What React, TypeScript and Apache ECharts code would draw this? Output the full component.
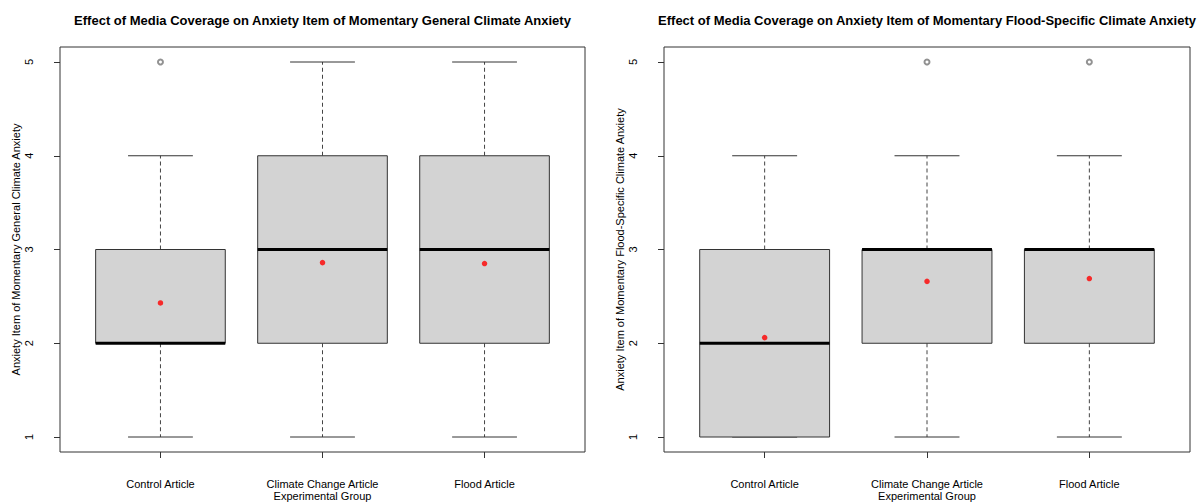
import React, { useEffect, useRef } from 'react';
import * as echarts from 'echarts';

// Experimental groups, placed at x = 1, 2, 3
const groups = ['Control Article', 'Climate Change Article', 'Flood Article'];
const groupPositions = [1, 2, 3];
const yTicks = [1, 2, 3, 4, 5];

// Five-number summaries per group: [lower whisker, Q1, median, Q3, upper whisker]
const generalStats = [
  [1, 2, 2, 3, 4],
  [1, 2, 3, 4, 5],
  [1, 2, 3, 4, 5],
];
const generalMeans = [2.43, 2.86, 2.85];
// Outliers as [group position, value]
const generalOutliers = [[1, 5]];

const floodStats = [
  [1, 1, 2, 3, 4],
  [1, 2, 3, 3, 4],
  [1, 2, 3, 3, 4],
];
const floodMeans = [2.06, 2.66, 2.69];
const floodOutliers = [
  [2, 5],
  [3, 5],
];

const titles = [
  'Effect of Media Coverage on Anxiety Item of Momentary General Climate Anxiety',
  'Effect of Media Coverage on Anxiety Item of Momentary Flood-Specific Climate Anxiety',
];
const yNames = [
  'Anxiety Item of Momentary General Climate Anxiety',
  'Anxiety Item of Momentary Flood-Specific Climate Anxiety',
];
const xName = 'Experimental Group';

const FONT = 'Liberation Sans, Arial, Helvetica, sans-serif';
const INK = '#333';

const grids = [
  { left: 60, top: 47, width: 525, height: 405 },
  { left: 664, top: 47, width: 526, height: 405 },
];

function renderBox(params: any, api: any) {
  const x = api.value(0);
  const lo = api.value(1);
  const q1 = api.value(2);
  const med = api.value(3);
  const q3 = api.value(4);
  const hi = api.value(5);
  const c = (xv: number, yv: number) => api.coord([xv, yv]);
  const cx = c(x, lo)[0];
  const yLo = c(x, lo)[1];
  const yQ1 = c(x, q1)[1];
  const yMed = c(x, med)[1];
  const yQ3 = c(x, q3)[1];
  const yHi = c(x, hi)[1];
  const bL = c(x - 0.4, med)[0];
  const bR = c(x + 0.4, med)[0];
  const sL = c(x - 0.2, med)[0];
  const sR = c(x + 0.2, med)[0];
  const dash = { stroke: '#444', lineWidth: 1, lineDash: [4, 3] };
  const solid = { stroke: INK, lineWidth: 1 };
  return {
    type: 'group',
    children: [
      { type: 'line', shape: { x1: cx, y1: yQ3, x2: cx, y2: yHi }, style: dash },
      { type: 'line', shape: { x1: cx, y1: yQ1, x2: cx, y2: yLo }, style: dash },
      { type: 'line', shape: { x1: sL, y1: yHi, x2: sR, y2: yHi }, style: solid },
      { type: 'line', shape: { x1: sL, y1: yLo, x2: sR, y2: yLo }, style: solid },
      {
        type: 'rect',
        shape: { x: bL, y: yQ3, width: bR - bL, height: yQ1 - yQ3 },
        style: { fill: '#D3D3D3', stroke: INK, lineWidth: 1 },
      },
      {
        type: 'line',
        shape: { x1: bL, y1: yMed, x2: bR, y2: yMed },
        style: { stroke: '#000', lineWidth: 3 },
      },
    ],
  };
}

function panel(i: number, stats: number[][], means: number[], outliers: number[][]) {
  const xAxis = {
    type: 'value',
    gridIndex: i,
    min: 0.38,
    max: 3.62,
    splitLine: { show: false },
    axisLine: { show: false },
    axisTick: { show: true, customValues: groupPositions, length: 6, lineStyle: { color: INK } },
    axisLabel: {
      customValues: groupPositions,
      formatter: (v: number) => groups[Math.round(v) - 1] ?? '',
      margin: 26,
      color: '#000',
      fontSize: 11,
      fontFamily: FONT,
    },
    name: xName,
    nameLocation: 'middle',
    nameGap: 38,
    nameMoveOverlap: false,
    nameTextStyle: { color: '#000', fontSize: 11, lineHeight: 12, fontFamily: FONT },
  };
  const yAxis = {
    type: 'value',
    gridIndex: i,
    min: 0.84,
    max: 5.16,
    splitLine: { show: false },
    axisLine: { show: false },
    axisTick: { show: true, customValues: yTicks, length: 6, lineStyle: { color: INK } },
    axisLabel: {
      customValues: yTicks,
      rotate: 90,
      margin: 26,
      color: '#000',
      fontSize: 11,
      fontFamily: FONT,
    },
    name: yNames[i],
    nameLocation: 'middle',
    nameGap: 39,
    nameMoveOverlap: false,
    nameTextStyle: { color: '#000', fontSize: 11, fontFamily: FONT },
  };
  const series = [
    {
      type: 'custom',
      xAxisIndex: i,
      yAxisIndex: i,
      renderItem: renderBox,
      encode: { x: 0, y: [1, 2, 3, 4, 5] },
      data: stats.map((s, k) => [groupPositions[k], ...s]),
      z: 2,
    },
    {
      type: 'scatter',
      xAxisIndex: i,
      yAxisIndex: i,
      symbol: 'emptyCircle',
      symbolSize: 5,
      itemStyle: { color: '#777', borderColor: '#777', borderWidth: 0.7 },
      data: outliers,
      z: 3,
    },
    {
      type: 'scatter',
      xAxisIndex: i,
      yAxisIndex: i,
      symbol: 'circle',
      symbolSize: 5.5,
      itemStyle: { color: '#FF0000' },
      data: means.map((m, k) => [groupPositions[k], m]),
      z: 4,
    },
  ];
  return { xAxis, yAxis, series };
}

export default function App() {
  const ref = useRef<HTMLDivElement>(null);
  useEffect(() => {
    if (!ref.current) return;
    document.body.style.margin = '0';
    const chart = echarts.init(ref.current, null, { renderer: 'svg' });
    const a = panel(0, generalStats, generalMeans, generalOutliers);
    const b = panel(1, floodStats, floodMeans, floodOutliers);
    chart.setOption({
      animation: false,
      backgroundColor: '#fff',
      grid: grids.map((g) => ({
        ...g,
        outerBoundsMode: 'none',
        show: true,
        borderColor: INK,
        borderWidth: 1,
        backgroundColor: 'transparent',
      })),
      xAxis: [a.xAxis, b.xAxis],
      yAxis: [a.yAxis, b.yAxis],
      series: [...a.series, ...b.series],
      graphic: titles.map((t, k) => ({
        type: 'text',
        x: grids[k].left + grids[k].width / 2,
        y: 20,
        style: {
          text: t,
          align: 'center',
          verticalAlign: 'middle',
          fill: '#000',
          font: `bold 13px ${FONT}`,
        },
      })),
    });
    return () => chart.dispose();
  }, []);
  return <div ref={ref} style={{ width: 1198, height: 502 }} />;
}
